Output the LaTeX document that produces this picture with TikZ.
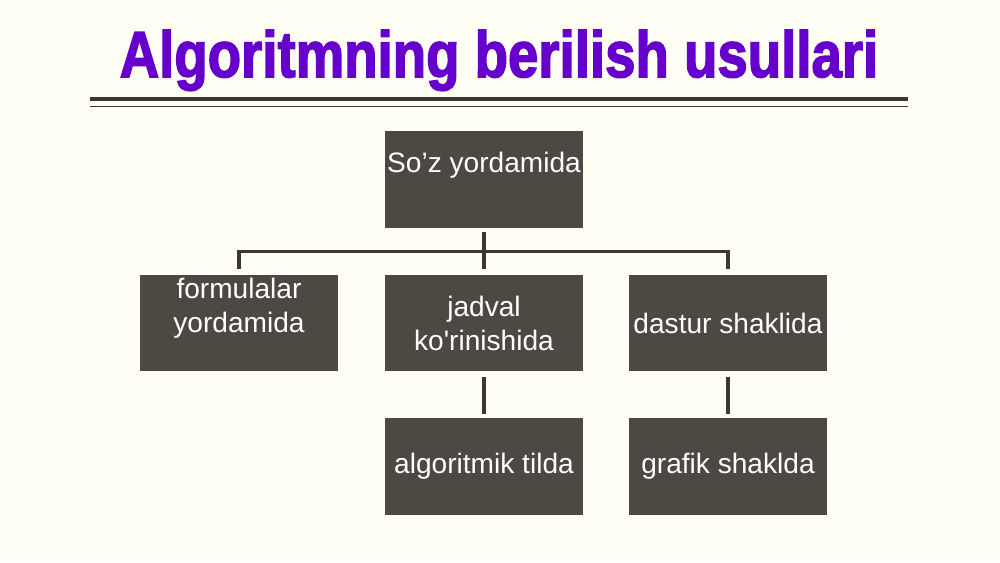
\documentclass[tikz,border=0pt]{standalone}
\usepackage{fontspec}
\setmainfont{Liberation Sans}
\newfontfamily\ttlfont{Liberation Sans}[BoldFeatures={FakeBold=2.5}]
\usetikzlibrary{positioning}
\definecolor{bgc}{HTML}{FEFEF4}
\definecolor{boxc}{HTML}{4E4842}
\definecolor{linec}{HTML}{3B3833}
\definecolor{ttlc}{HTML}{6600CC}
\tikzset{b/.style={fill=boxc,text=white,minimum width=3.96cm,minimum height=1.94cm,inner sep=0pt,align=center,font=\fontsize{16}{19.3}\selectfont},
 up/.style={text depth=.7cm},
 wire/.style={draw=linec,line width=2pt},
 rule/.style={draw=linec},
 ttl/.style={text=ttlc,font=\ttlfont\fontsize{37}{40}\selectfont\bfseries,xscale=.84}}

\begin{document}
\begin{tikzpicture}[x=.02cm,y=.02cm]
\fill[bgc](0,0)rectangle(1000,562);
\node[ttl,anchor=base](hd) at(499,485){Algoritmning berilish usullari};
\draw[rule,line width=2pt](90,463)--(908,463);
\draw[rule,line width=.9pt](90,455.5)--(908,455.5);
% boxes
\node[b,up](soz) at(484,382.5){So’z yordamida};
\node[b,up](frm) at(239,239){formulalar\\yordamida};
\node[b](jdv) at(484,239){jadval\\ko\textquotesingle rinishida};
\node[b](dst) at(728,239){dastur shaklida};
\node[b](alg) at(484,95.5){algoritmik tilda};
\node[b](grf) at(728,95.5){grafik shaklda};
% tree lines
\draw[wire,shorten <=.08cm,shorten >=.1cm](soz.south)--(jdv.north);
\draw[wire,shorten <=.08cm,shorten >=.1cm](soz.south)--++(0,-23)-|(frm.north);
\draw[wire,shorten <=.08cm,shorten >=.1cm](soz.south)--++(0,-23)-|(dst.north);
\foreach \u/\v in {jdv/alg,dst/grf}
 \draw[wire,shorten <=.1cm,shorten >=.08cm](\u.south)--(\v.north);
\end{tikzpicture}
\end{document}
